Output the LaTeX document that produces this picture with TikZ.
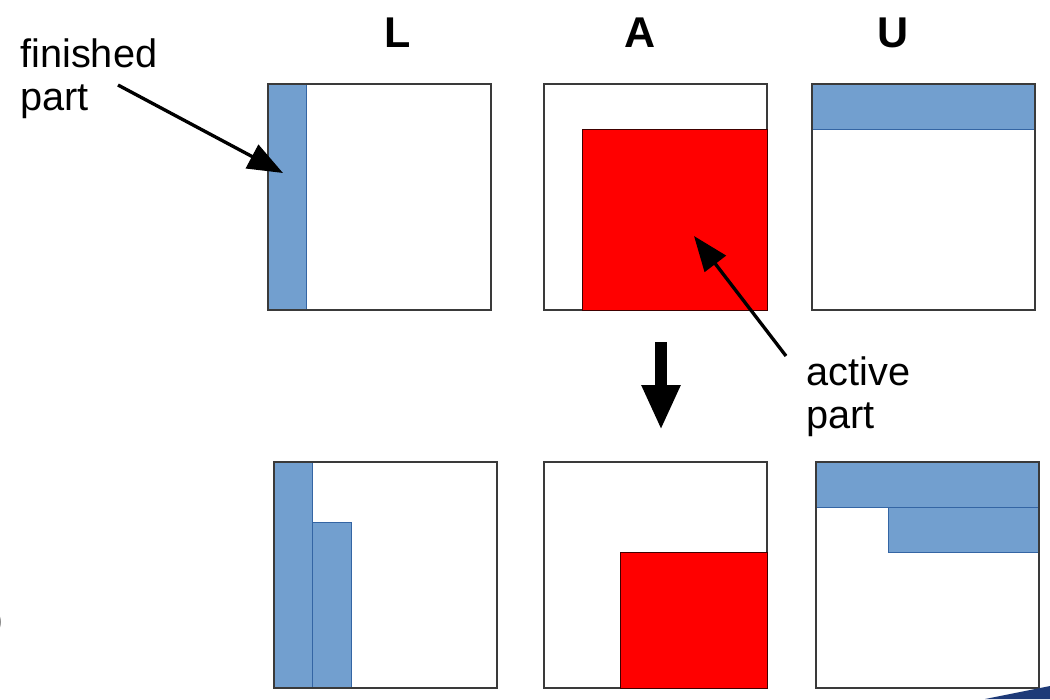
\documentclass[tikz,border=0pt]{standalone}
\usepackage{fontspec}
\setmainfont{Liberation Sans}
\usetikzlibrary{arrows.meta}

\definecolor{partblue}{HTML}{729FCF}
\definecolor{partbluedark}{HTML}{3465A4}
\definecolor{activered}{HTML}{FF0000}
\definecolor{boxgray}{HTML}{3A3A3A}
\definecolor{swooshblue}{HTML}{1E3A78}

\begin{document}
\begin{tikzpicture}[x=0.02cm,y=-0.02cm,
    matbox/.style={draw=boxgray,line width=0.6pt},
    donepart/.style={fill=partblue,draw=partbluedark,line width=0.5pt},
    activepart/.style={fill=activered,draw=black!75!red,line width=0.5pt},
    collabel/.style={font=\bfseries\fontsize{24.5}{28}\selectfont,anchor=base},
    notelabel/.style={font=\fontsize{22.6}{24.5}\selectfont,align=left,anchor=north west,inner sep=0pt},
    pointer/.style={line width=1.9pt,-{Triangle[length=20pt,width=15pt]}}]

    \useasboundingbox (0,0) rectangle (1050,699);

    % Column labels
    \foreach \x/\name in {398/L, 640/A, 893/U}
        \node[collabel] (col\name) at (\x,48) {\name};

    % Top row: L, A, U
    \draw[donepart] (268,84) rectangle (306,310);
    \draw[matbox] (268,84) rectangle (491,310);

    \draw[matbox] (544,84) rectangle (767,310);
    \draw[activepart] (582,129) rectangle (767,310);

    \draw[donepart] (812,84) rectangle (1035,129);
    \draw[matbox] (812,84) rectangle (1035,310);

    % Bottom row: L, A, U after one step
    \draw[donepart] (274,462) rectangle (312,688);
    \draw[donepart] (312,522) rectangle (351,688);
    \draw[matbox] (274,462) rectangle (497,688);

    \draw[matbox] (544,462) rectangle (767,688);
    \draw[activepart] (620,552) rectangle (767,688);

    \draw[donepart] (816,462) rectangle (1039,507);
    \draw[donepart] (888,507) rectangle (1039,552);
    \draw[matbox] (816,462) rectangle (1039,688);

    % Step arrow
    \coordinate (stepfrom) at (661,342);
    \coordinate (stepto) at (661,430);
    \draw[line width=6.8pt,-{Triangle[length=25.5pt,width=20.4pt]}] (stepfrom) -- (stepto);

    % Notes with pointers
    \node[notelabel] (finishednote) at (20,38) {finished\\part};
    \coordinate (finishedfrom) at (118,85);
    \coordinate (finishedto) at (283,173);
    \draw[pointer] (finishedfrom) -- (finishedto);

    \node[notelabel] (activenote) at (806,356) {active\\part};
    \coordinate (activefrom) at (786,356);
    \coordinate (activeto) at (694,236);
    \draw[pointer] (activefrom) -- (activeto);

    % Slide leftovers at the edges
    \node[font=\fontsize{22}{24}\selectfont,anchor=east,inner sep=0pt] (leftparen) at (4,622) {)};
    \fill[swooshblue] (985,699) .. controls (1015,693) .. (1050,686) -- (1050,699) -- cycle;

\end{tikzpicture}
\end{document}
